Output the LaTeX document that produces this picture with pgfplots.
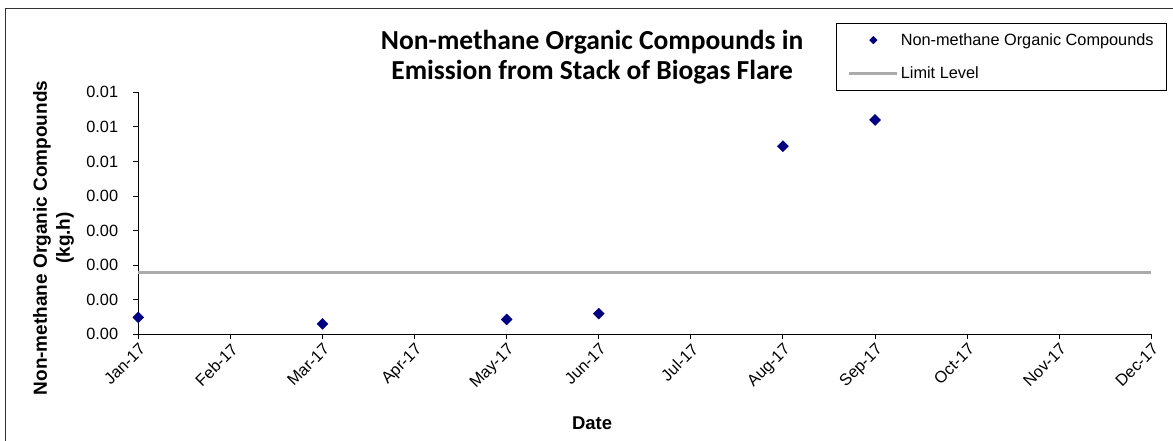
\documentclass[border=0pt]{standalone}
\usepackage{pgfplots}
\pgfplotsset{compat=1.18}
\usepackage{fontspec}
\setmainfont{Liberation Sans}
\newfontfamily\titlefont{Carlito}
\definecolor{navyc}{RGB}{0,0,128}
\definecolor{limitgray}{RGB}{170,170,170}
\begin{document}
\begin{tikzpicture}
\useasboundingbox (-138.3bp,-106.7bp) rectangle (1034.7bp,334.3bp);
\draw[black!80, line width=1bp] (-132.3bp,-115bp) -- (-132.3bp,325.3bp) -- (1040bp,325.3bp);
\begin{axis}[
  at={(0,0)}, anchor=south west,
  scale only axis, width=1013bp, height=242bp,
  xmin=0, xmax=11, ymin=0, ymax=0.007,
  clip=false,
  axis lines=left, axis line style={-, black, line width=1bp},
  tick align=outside, major tick length=5bp, tick style={black, line width=1bp},
  xtick={0,...,11},
  xticklabels={Jan-17,Feb-17,Mar-17,Apr-17,May-17,Jun-17,Jul-17,Aug-17,Sep-17,Oct-17,Nov-17,Dec-17},
  ytick={0,0.001,0.002,0.003,0.004,0.005,0.006,0.007},
  yticklabels={0.00,0.00,0.00,0.00,0.00,0.01,0.01,0.01},
  scaled y ticks=false,
  ticklabel style={font=\fontsize{16.3bp}{19bp}\selectfont},
  xticklabel style={rotate=45, anchor=north east, inner sep=2bp},
  yticklabel style={anchor=east, inner sep=2bp, xshift=-13bp},
  xlabel={Date},
  xlabel style={at={(axis description cs:0.448,-0.3665)}, anchor=center, font=\fontsize{18.5bp}{22bp}\selectfont\bfseries},
  ylabel={Non-methane Organic Compounds\\(kg.h)},
  ylabel style={at={(axis description cs:-0.0837,0.398)}, anchor=center, align=center, font=\fontsize{19bp}{23bp}\selectfont\bfseries},
  title={Non-methane Organic Compounds in\\Emission from Stack of Biogas Flare},
  title style={at={(axis description cs:0.448,1.121)}, anchor=center, align=center, font=\fontsize{27.5bp}{30bp}\selectfont\titlefont\bfseries},
  legend style={at={(axis description cs:1.0155,1.286)}, anchor=north east, draw=black, line width=0.8bp,
    font=\fontsize{16.3bp}{19bp}\selectfont, inner xsep=11bp, inner ysep=8bp, row sep=16bp},
  legend cell align=left,
]
\addplot[only marks, mark=square*, mark size=3.9bp, mark options={rotate=45, fill=navyc, draw=navyc},
  legend image code/.code={\fill[navyc] (28bp,0bp) +(0bp,3.5bp) -- +(3.5bp,0bp) -- +(0bp,-3.5bp) -- +(-3.5bp,0bp) -- cycle;}]
  coordinates {(0,0.00049) (2,0.0003) (4,0.00043) (5,0.0006) (7,0.00544) (8,0.0062)};
\addlegendentry{Non-methane Organic Compounds}
\addplot[limitgray, line width=3bp,
  legend image code/.code={\draw[limitgray, line width=3bp] (4bp,0bp) -- (52bp,0bp);}]
  coordinates {(0,0.0018) (11,0.0018)};
\addlegendentry{Limit Level}
\end{axis}
\end{tikzpicture}
\end{document}
